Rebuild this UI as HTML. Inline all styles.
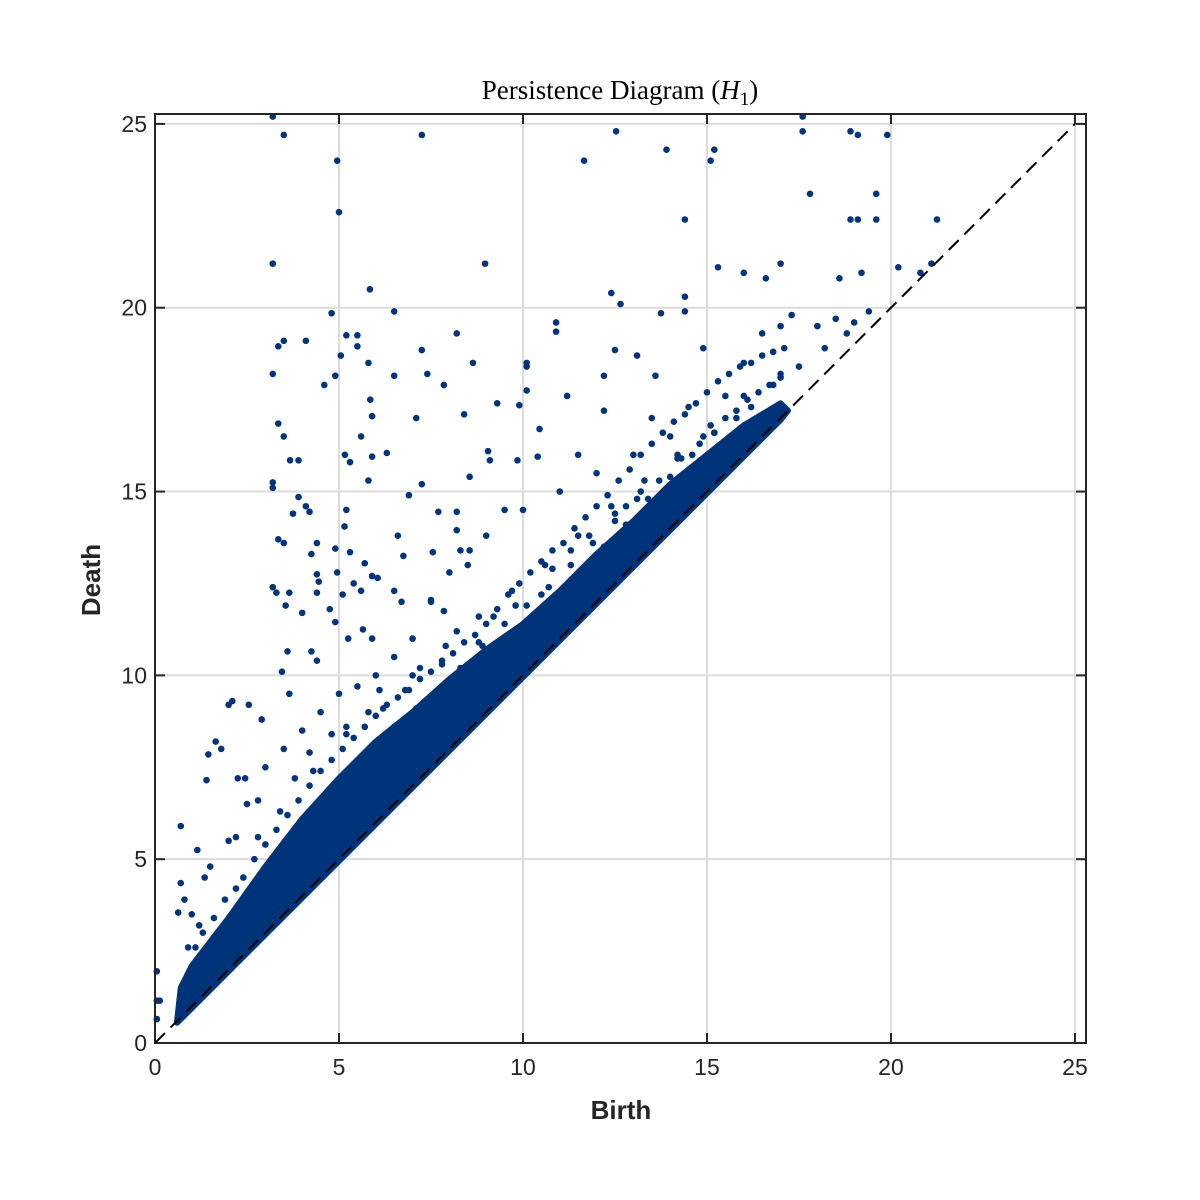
<!DOCTYPE html>
<html><head><meta charset="utf-8"><style>
html,body{margin:0;padding:0;background:#fff;}
svg{display:block;}
text{font-family:"Liberation Sans",Arial,sans-serif;fill:#262626;}
</style></head><body>
<svg id="chart" width="1200" height="1200" viewBox="0 0 1200 1200" xmlns="http://www.w3.org/2000/svg">
<rect width="1200" height="1200" fill="#fff"/>
<g id="grid"></g>
<g id="band"></g>
<g id="pts"></g>
<g id="axes"></g>
<text x="620" y="99" text-anchor="middle" style="font-family:'Liberation Serif',serif;font-size:27px;fill:#000">Persistence Diagram (<tspan font-style="italic">H</tspan><tspan font-size="19" dy="6">1</tspan><tspan dy="-6">)</tspan></text>
<text x="621" y="1119" text-anchor="middle" font-size="26" font-weight="bold">Birth</text>
<text x="0" y="0" transform="translate(100,580) rotate(-90)" text-anchor="middle" font-size="26" font-weight="bold">Death</text>
</svg>
<script>
const xTicks=[0,5,10,15,20,25];
const yTicks=[0,5,10,15,20,25];
const births=[3.2,3.5,4.95,5.0,3.2,7.25,8.97,11.66,12.53,13.9,15.2,15.1,14.4,15.3,17.6,17.6,18.9,19.1,19.9,17.8,19.6,18.9,19.1,19.6,21.25,20.2,21.1,20.8,16.0,16.6,17.0,18.6,19.2,5.84,12.4,12.65,4.8,6.5,14.4,14.4,13.75,10.9,10.9,8.2,5.2,5.5,4.1,3.5,3.35,5.5,5.05,7.25,12.5,13.1,14.9,8.64,10.1,10.1,5.8,3.2,4.9,6.5,7.4,12.2,13.6,4.6,7.85,10.1,5.85,9.3,9.9,8.4,11.2,5.9,7.1,3.35,5.6,3.5,10.45,12.2,5.16,3.67,3.9,5.9,6.3,5.3,9.05,9.1,9.85,10.4,3.2,3.2,5.8,7.25,8.55,3.9,6.9,4.1,3.75,4.2,5.2,7.7,8.2,5.15,3.35,3.5,4.4,4.9,6.6,8.2,7.55,8.3,8.55,4.25,5.3,5.7,6.75,4.4,4.95,5.9,6.05,4.45,5.4,3.2,3.3,3.65,4.4,5.1,5.6,6.5,6.7,3.55,4.0,4.75,7.5,7.85,4.9,5.65,5.9,5.25,3.6,4.25,4.4,3.45,3.65,2.1,2.0,2.55,2.9,1.65,1.8,1.45,1.4,2.25,2.45,0.7,1.15,0.7,1.35,0.63,0.8,0.05,0.05,0.13,0.05,
15.5,16,16.5,17,17.3,18,18.5,19,14,14.5,13,13.5,12,11,11.5,10,9.5,9,8.5,8,7.5,7,6.5,6,5.5,5,4.5,4,3.5,3,2.5,2,1.5,1,
17.0,17.5,18.2,18.8,19.4,16.2,15.8,14.8,13.2,12.5,11.8,10.5,9.8,8.8,7.8,6.8,6.2,4.8,4.2,3.8,2.8,2.2,1.2,0.9,16.8,15.2,14.2,12.8,11.3,10.8,9.2,8.2,7.2,5.8,5.2,
1.1,1.3,1.6,1.9,2.2,2.4,2.7,3.0,3.3,3.6,3.9,4.2,4.5,4.8,5.1,5.4,5.7,6.0,6.3,6.6,6.9,7.2,7.5,7.8,8.1,8.4,8.7,9.0,9.3,9.6,9.9,10.2,10.5,10.8,11.1,11.4,11.7,12.0,12.3,12.6,12.9,13.2,13.5,13.8,14.1,14.4,14.7,15.0,15.3,15.6,15.9,16.2,16.5,16.8,17.1,
1.4,2.0,2.6,3.2,3.8,4.4,5.0,5.6,6.2,6.8,7.4,8.0,8.6,9.2,9.8,10.4,11.0,11.6,12.2,12.8,13.4,14.0,14.6,15.2,15.8,16.4,17.0,
1.2,1.7,2.3,2.9,3.5,4.1,4.7,5.3,5.9,6.5,7.1,7.7,8.3,8.9,9.5,10.1,10.7,11.3,11.9,12.5,13.1,13.7,14.3,14.9,15.5,16.1,16.7,
2.8,3.4,4.3,5.2,6.1,7.0,7.9,8.8,9.7,10.6,11.5,12.4,13.3,14.2,15.1,16.0];
const deaths=[25.2,24.7,24.0,22.6,21.2,24.7,21.2,24.0,24.8,24.3,24.3,24.0,22.4,21.1,25.2,24.8,24.8,24.7,24.7,23.1,23.1,22.4,22.4,22.4,22.4,21.1,21.2,20.95,20.95,20.8,21.2,20.8,20.95,20.5,20.4,20.1,19.85,19.9,20.3,19.9,19.85,19.6,19.35,19.3,19.25,19.25,19.1,19.1,18.95,18.95,18.7,18.85,18.85,18.7,18.9,18.5,18.5,18.4,18.5,18.2,18.15,18.15,18.2,18.15,18.15,17.9,17.9,17.75,17.5,17.4,17.35,17.1,17.6,17.05,17.0,16.85,16.5,16.5,16.7,17.2,16.0,15.85,15.85,15.95,16.05,15.8,16.1,15.85,15.85,15.95,15.25,15.1,15.3,15.2,15.4,14.85,14.9,14.6,14.4,14.45,14.5,14.45,14.45,14.05,13.7,13.6,13.6,13.45,13.8,13.95,13.35,13.4,13.4,13.3,13.35,13.05,13.25,12.75,12.8,12.7,12.65,12.55,12.5,12.4,12.25,12.25,12.25,12.2,12.3,12.3,12.0,11.9,11.7,11.8,12.05,11.75,11.45,11.25,11.0,11.0,10.65,10.65,10.4,10.1,9.5,9.3,9.2,9.2,8.8,8.2,8.0,7.85,7.15,7.2,7.2,5.9,5.25,4.35,4.5,3.55,3.9,1.95,1.15,1.15,0.65,
17.6,18.5,19.3,19.5,19.8,19.5,19.7,19.6,16.5,17.3,16,17,15.5,15,16,14.5,14.5,13.8,13,12.8,12,11,10.5,10,9.7,9.5,9,8.5,8,7.5,6.5,5.5,4.8,3.5,
18.1,18.4,18.9,19.3,19.9,17.3,17.0,16.3,15.0,14.4,13.8,12.2,11.9,10.9,10.4,9.6,9.1,8.4,7.9,7.2,6.6,5.6,3.2,2.6,17.9,16.6,15.9,14.6,13.4,12.9,11.6,11.2,10.2,9.0,8.4,
2.6,3.0,3.4,3.9,4.2,4.5,5.0,5.4,5.8,6.2,6.6,7.0,7.4,7.7,8.0,8.3,8.6,8.9,9.2,9.4,9.6,9.9,10.1,10.3,10.6,10.9,11.1,11.4,11.8,12.2,12.5,12.8,13.1,13.4,13.6,14.0,14.3,14.6,14.9,15.3,15.6,16.0,16.3,16.6,16.9,17.1,17.4,17.7,18.0,18.2,18.4,18.5,18.7,18.8,18.9,
2.2,2.9,3.7,4.4,5.1,5.8,6.4,7.0,7.7,8.3,8.9,9.3,9.9,10.5,11.0,11.6,12.2,12.8,13.5,14.1,14.8,15.4,16.0,16.6,17.2,17.7,18.2,
2.3,2.9,3.6,4.4,5.2,6.0,6.7,7.4,8.0,8.6,9.1,9.6,10.2,10.8,11.4,11.9,12.4,13.0,13.6,14.2,14.8,15.3,15.9,16.5,17.0,17.5,17.9,
5.6,6.3,7.4,8.6,9.6,10.0,10.8,11.6,12.3,13.0,13.8,14.6,15.3,16.0,16.8,17.6];
const bandBirth=[0.6,0.7,1,2,3,4,5,6,7,8,9,10,11,12,13,14,15,16,17,17.2,17.0,0.6];
const bandDeath=[0.6,1.5,2.1,3.4,4.8,6.1,7.2,8.2,9.0,9.9,10.7,11.4,12.3,13.3,14.2,15.2,16.0,16.8,17.4,17.2,16.95,0.55];
const xMax=25.3,yMax=25.27;
const L=155,R=1086,T=114,B=1043;
const sx=v=>L+v/xMax*(R-L), sy=v=>B-v/yMax*(B-T);
const NS="http://www.w3.org/2000/svg";
function mk(tag,attrs,parent){const e=document.createElementNS(NS,tag);for(const k in attrs)e.setAttribute(k,attrs[k]);parent.appendChild(e);return e;}
const grid=document.getElementById('grid'),axes=document.getElementById('axes'),pts=document.getElementById('pts'),band=document.getElementById('band');
xTicks.forEach(t=>{
 const g=mk('line',{x1:sx(t),x2:sx(t),y1:T,y2:B,stroke:'#dcdcdc','stroke-width':2},grid);
 
 
 mk('line',{x1:sx(t),x2:sx(t),y1:B,y2:B-10,stroke:'#262626','stroke-width':2},axes);
 mk('line',{x1:sx(t),x2:sx(t),y1:T,y2:T+10,stroke:'#262626','stroke-width':2},axes);
 const tx=mk('text',{x:sx(t),y:B+32,'text-anchor':'middle','font-size':23},axes);
 tx.textContent=t;
 
 
});
yTicks.forEach(t=>{
 const g=mk('line',{x1:L,x2:R,y1:sy(t),y2:sy(t),stroke:'#dcdcdc','stroke-width':2},grid);
 
 
 mk('line',{x1:L,x2:L+10,y1:sy(t),y2:sy(t),stroke:'#262626','stroke-width':2},axes);
 mk('line',{x1:R,x2:R-10,y1:sy(t),y2:sy(t),stroke:'#262626','stroke-width':2},axes);
 const tx=mk('text',{x:L-8,y:sy(t)+8,'text-anchor':'end','font-size':23},axes);
 tx.textContent=t;
 
 
});
const box=mk('rect',{x:L,y:T,width:R-L,height:B-T,fill:'none',stroke:'#262626','stroke-width':2},axes);


const poly=mk('polygon',{points:bandBirth.map((b,i)=>sx(b)+','+sy(bandDeath[i])).join(' '),fill:'#00347a',stroke:'#00347a','stroke-width':6,'stroke-linejoin':'round'},band);


births.forEach((b,i)=>{
 const c=mk('circle',{cx:sx(b),cy:sy(deaths[i]),r:3.3,fill:'#00347a'},pts);
 
 
});
const d=mk('line',{x1:sx(0),y1:sy(0),x2:sx(25),y2:sy(25),stroke:'#000','stroke-width':2,'stroke-dasharray':'14,8'},axes);


</script>
</body></html>
